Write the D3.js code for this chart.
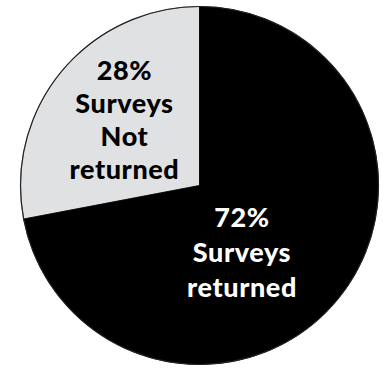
<!DOCTYPE html>
<html><head><meta charset="utf-8">
<script src="https://cdn.jsdelivr.net/npm/d3@7"></script>
<style>html,body{margin:0;padding:0;background:#fff;}</style>
</head><body>
<svg id="c" width="383" height="368"></svg>
<script>
const categories = ["Surveys Not returned", "Surveys returned"];
const values = [28, 72];
const labelLines = [["28%", "Surveys", "Not", "returned"], ["72%", "Surveys", "returned"]];
const colors = ["#e0e1e3", "#000000"];
const textColors = ["#000000", "#ffffff"];

const W = 383, H = 368, cx = 199.5, cy = 185.5, R = 179;
const svg = d3.select("#c");
const g = svg.append("g").attr("transform", `translate(${cx},${cy})`);

const pie = d3.pie().sort(null).value(d => d.v)
  .startAngle(0).endAngle(-2 * Math.PI);
const data = categories.map((c, i) => ({c, v: values[i], i}));
const arcs = pie(data);
const arc = d3.arc().innerRadius(0).outerRadius(R);

g.selectAll("path.s").data(arcs).join("path")
  .attr("class", "s")
  .attr("d", arc)
  .attr("fill", (d, i) => colors[i])
  .attr("stroke", (d, i) => i === 0 ? "#777" : "#000")
  .attr("stroke-width", 0.8);

g.append("circle").attr("r", R).attr("fill", "none").attr("stroke", "#222").attr("stroke-width", 1.2);

// label anchors (polar) relative to centre
const labelPolar = [{a: -48.9, r: 99.6, lh: 33}, {a: 147.6, r: 79.3, lh: 35}];
const fs = 27;
arcs.forEach((d, i) => {
  const p = labelPolar[i];
  const ang = p.a * Math.PI / 180;
  const x = Math.sin(ang) * p.r, y = -Math.cos(ang) * p.r;
  const lines = labelLines[i];
  const n = lines.length;
  lines.forEach((ln, k) => {
    g.append("text")
      .attr("text-anchor", "middle")
      .attr("font-family", "Lato, sans-serif")
      .attr("font-weight", 900)
      .attr("font-size", fs)
      .attr("letter-spacing", 0.6)
      .attr("fill", textColors[i])
      .attr("x", x)
      .attr("y", y + (k - (n - 1) / 2) * p.lh + fs * 0.36)
      .text(ln);
  });
});
</script>
</body></html>
